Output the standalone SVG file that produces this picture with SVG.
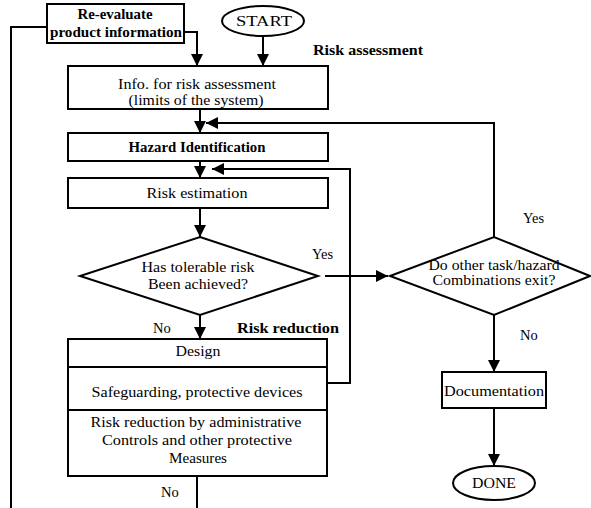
<svg xmlns="http://www.w3.org/2000/svg" width="591" height="508" viewBox="0 0 591 508">
<defs>
<marker id="ah" markerUnits="userSpaceOnUse" markerWidth="12" markerHeight="12" viewBox="0 0 12 12" refX="12" refY="6" orient="auto">
<path d="M0,0 L12,6 L0,12 z" fill="#000"/>
</marker>
</defs>
<style>
.s{fill:#fff;stroke:#000;stroke-width:2}
.c{fill:none;stroke:#000;stroke-width:2}
.a{marker-end:url(#ah)}
text{font-family:"Liberation Serif","Times New Roman",serif;font-size:14.5px;fill:#000}
.m{text-anchor:middle}
.b{font-weight:bold}
</style>
<rect width="591" height="508" fill="#fff"/>
<g id="connectors">
<polyline class="c" points="47,27 11,27 11,508"/>
<polyline class="c a" points="184,32 197,32 197,66"/>
<line class="c a" x1="263" y1="36" x2="263" y2="66"/>
<line class="c a" x1="200" y1="109" x2="200" y2="133"/>
<polyline class="c a" points="494,237 494,123 206,123"/>
<line class="c a" x1="200" y1="161" x2="200" y2="178"/>
<polyline class="c a" points="327,383 350,383 350,169 212,169"/>
<line class="c a" x1="200" y1="208" x2="200" y2="237"/>
<line class="c a" x1="325" y1="276" x2="388" y2="276"/>
<line class="c a" x1="200" y1="315" x2="200" y2="339"/>
<line class="c a" x1="494" y1="315" x2="494" y2="372"/>
<line class="c a" x1="494" y1="408" x2="494" y2="466"/>
<line class="c" x1="197" y1="476" x2="197" y2="508"/>
</g>
<g id="reevaluate">
<rect class="s" x="47" y="4" width="137" height="39"/>
<text class="m b" x="115" y="19" font-size="13" textLength="75" lengthAdjust="spacingAndGlyphs">Re-evaluate</text>
<text class="m b" x="116" y="37" font-size="13" textLength="132" lengthAdjust="spacingAndGlyphs">product information</text>
</g>
<g id="start">
<ellipse class="s" cx="263" cy="21" rx="41" ry="15"/>
<text class="m" x="264" y="26" font-size="15" textLength="56" lengthAdjust="spacingAndGlyphs">START</text>
</g>
<g id="info">
<rect class="s" x="68" y="66" width="260" height="43"/>
<text class="m" x="197" y="89" textLength="158" lengthAdjust="spacingAndGlyphs">Info. for risk assessment</text>
<text class="m" x="196" y="105" textLength="135" lengthAdjust="spacingAndGlyphs">(limits of the system)</text>
</g>
<g id="hazard">
<rect class="s" x="68" y="133" width="260" height="28"/>
<text class="m b" x="197" y="152" font-size="13.5" textLength="137" lengthAdjust="spacingAndGlyphs">Hazard Identification</text>
</g>
<g id="riskest">
<rect class="s" x="68" y="178" width="260" height="30"/>
<text class="m" x="197" y="198" textLength="101" lengthAdjust="spacingAndGlyphs">Risk estimation</text>
</g>
<g id="tolerable">
<polygon class="s" points="200,237 318,276 200,315 80,276"/>
<text class="m" x="198" y="272" textLength="113" lengthAdjust="spacingAndGlyphs">Has tolerable risk</text>
<text class="m" x="198" y="289" textLength="100" lengthAdjust="spacingAndGlyphs">Been achieved?</text>
</g>
<g id="other">
<polygon class="s" points="390,276 494,237 590,276 494,315"/>
<text class="m" x="494" y="270" textLength="131" lengthAdjust="spacingAndGlyphs">Do other task/hazard</text>
<text class="m" x="494" y="285" textLength="123" lengthAdjust="spacingAndGlyphs">Combinations exit?</text>
</g>
<g id="design">
<rect class="s" x="68" y="339" width="259" height="137"/>
<line class="c" x1="68" y1="367" x2="327" y2="367"/>
<line class="c" x1="68" y1="410" x2="327" y2="410"/>
<text class="m" x="198" y="356" textLength="45" lengthAdjust="spacingAndGlyphs">Design</text>
<text class="m" x="197" y="397" textLength="211" lengthAdjust="spacingAndGlyphs">Safeguarding, protective devices</text>
<text class="m" x="196" y="427" textLength="211" lengthAdjust="spacingAndGlyphs">Risk reduction by administrative</text>
<text class="m" x="197" y="445" textLength="190" lengthAdjust="spacingAndGlyphs">Controls and other protective</text>
<text class="m" x="198" y="463" textLength="58" lengthAdjust="spacingAndGlyphs">Measures</text>
</g>
<g id="documentation">
<rect class="s" x="442" y="372" width="104" height="36"/>
<text class="m" x="494" y="396" font-size="15" textLength="100" lengthAdjust="spacingAndGlyphs">Documentation</text>
</g>
<g id="done">
<ellipse class="s" cx="494" cy="483" rx="41" ry="17"/>
<text class="m" x="494" y="488" font-size="15" textLength="44" lengthAdjust="spacingAndGlyphs">DONE</text>
</g>
<g id="labels">
<text class="b" x="313" y="55" textLength="110" lengthAdjust="spacingAndGlyphs">Risk assessment</text>
<text class="b" x="237" y="333" textLength="102" lengthAdjust="spacingAndGlyphs">Risk reduction</text>
<text x="312" y="259" font-size="13" textLength="21" lengthAdjust="spacingAndGlyphs">Yes</text>
<text x="523" y="223" font-size="13" textLength="21" lengthAdjust="spacingAndGlyphs">Yes</text>
<text x="520" y="340" font-size="13">No</text>
<text x="153" y="333" font-size="13">No</text>
<text x="161" y="497" font-size="13">No</text>
</g>
</svg>
